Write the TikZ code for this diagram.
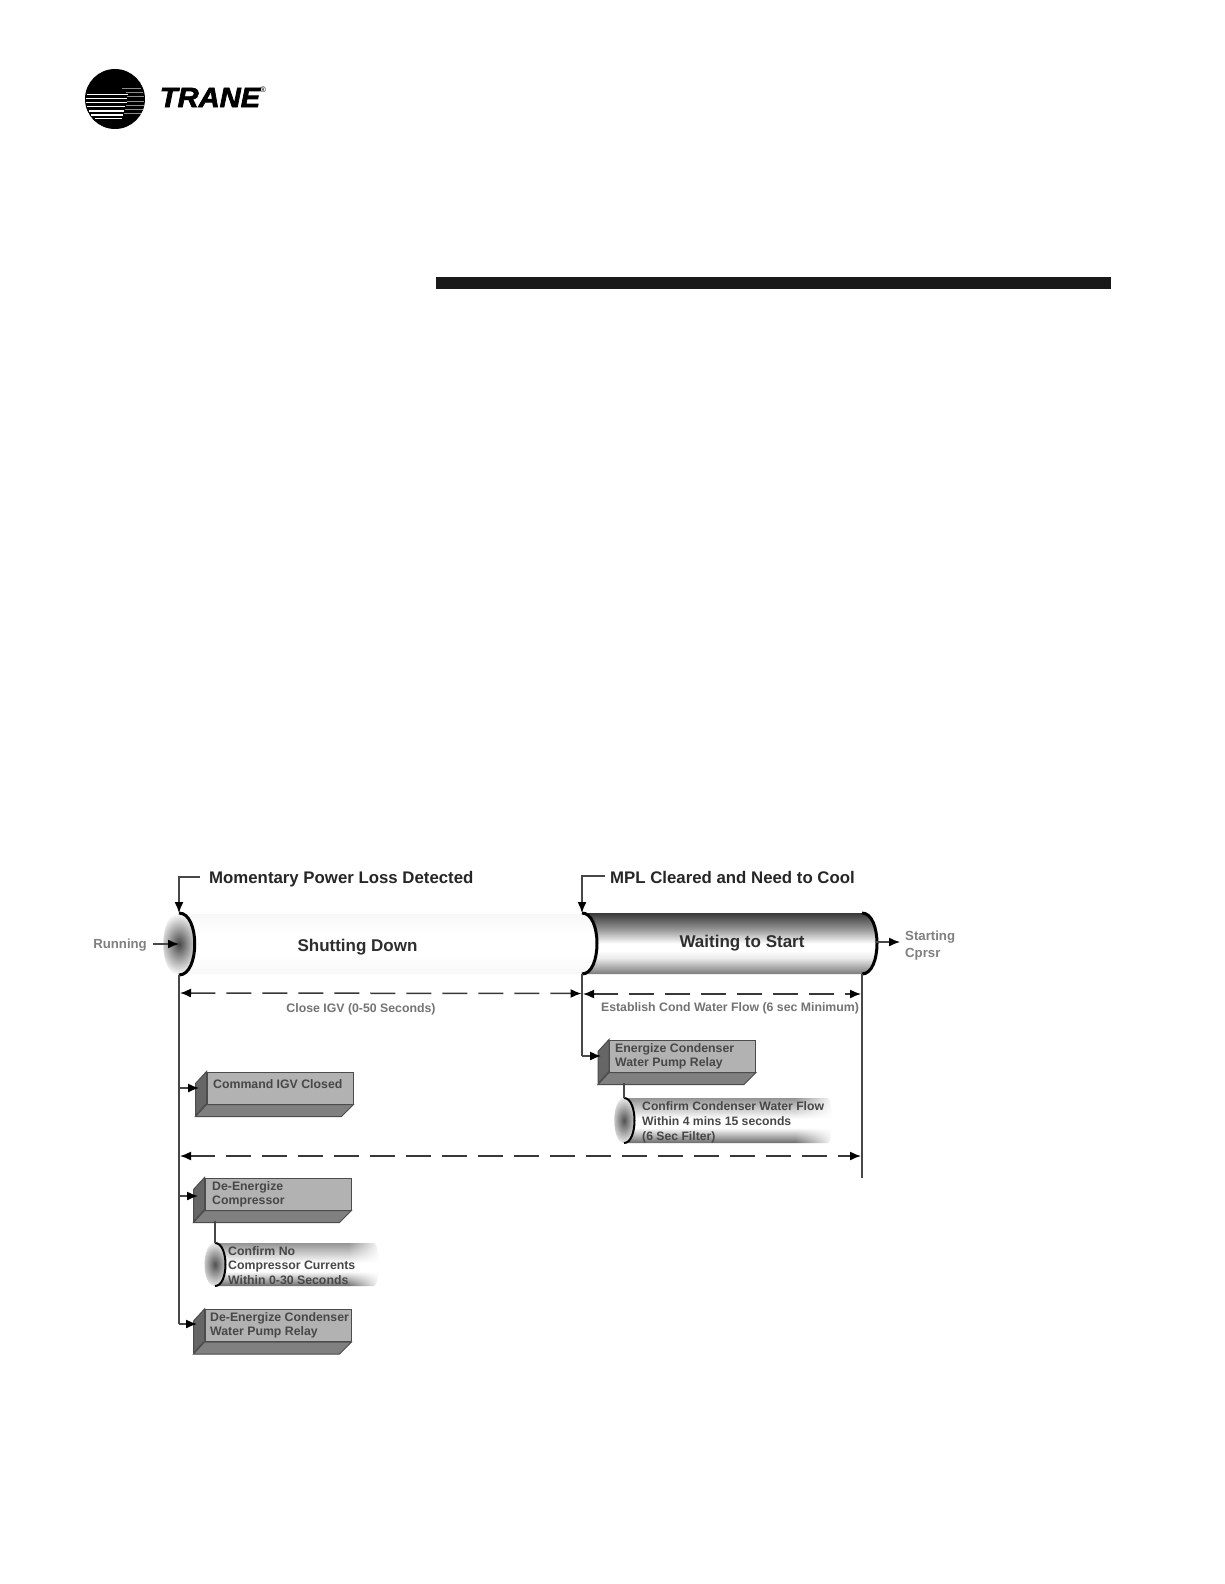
\documentclass[tikz,border=0pt]{standalone}
\usepackage{fontspec}
\setmainfont{Liberation Sans}
\usetikzlibrary{arrows.meta,fadings}
\newfontfamily\tranefont[BoldItalicFeatures={FakeBold=2.5}]{Liberation Sans}
\pgfdeclareverticalshading{bigtube}{100bp}{color(0bp)=(black!52);color(25bp)=(black!52);color(38bp)=(black!8);color(44bp)=(white);color(50bp)=(white);color(62bp)=(black!42);color(75bp)=(black!78);color(100bp)=(black!78)}
\pgfdeclareverticalshading{smalltube}{100bp}{color(0bp)=(black!58);color(25bp)=(black!58);color(42bp)=(white);color(52bp)=(white);color(75bp)=(black!42);color(100bp)=(black!42)}
\pgfdeclareverticalshading{faintube}{100bp}{color(0bp)=(black!3);color(25bp)=(black!3);color(40bp)=(white);color(58bp)=(white);color(75bp)=(black!3);color(100bp)=(black!3)}
\tikzset{
  x=1pt,y=-1pt,
  headtext/.style={font=\fontsize{16.8}{19}\selectfont\bfseries,text=black!85,anchor=west,inner sep=0pt},
  statetext/.style={font=\fontsize{17}{19}\selectfont\bfseries,text=black!82,inner sep=0pt},
  sidetext/.style={font=\fontsize{13.2}{17}\selectfont\bfseries,text=black!50,inner sep=0pt},
  spantext/.style={font=\fontsize{12.3}{14}\selectfont\bfseries,text=black!55,inner sep=0pt},
  boxtext/.style={font=\fontsize{12.3}{14.3}\selectfont\bfseries,text=black!72,anchor=north west,inner sep=0pt,align=left},
  tubetext/.style={font=\fontsize{12.2}{15}\selectfont\bfseries,text=black!72,anchor=north west,inner sep=0pt,align=left},
  frontface/.style={draw=black!70,line width=1pt,fill=black!30,minimum width=146pt,minimum height=32pt,inner sep=0pt},
  sideface/.style={draw=black!70,line width=1pt,fill=black!60},
  bottomface/.style={draw=black!70,line width=1pt,fill=black!50},
  conn/.style={draw=black!72,line width=1.4pt},
  arrowconn/.style={conn,-{Latex[length=11pt,width=9pt,black]}},
  spanconn/.style={draw=black!78,line width=1.5pt,dash pattern=on 25pt off 11pt,{Latex[length=11pt,width=9pt,black]}-{Latex[length=11pt,width=9pt,black]}},
  rim/.style={draw=black,line width=3pt},
  smallrim/.style={draw=black,line width=2pt},
}
% #1 name, #2 centre x, #3 centre y
\newcommand{\solidbox}[3]{%
  \node[frontface] (#1) at (#2,#3) {};
  \fill[sideface] (#1.north west) -- ++(-11,12) -- ++(0,32) -- ++(11,-12) -- cycle;
  \fill[bottomface] (#1.south west) -- ++(-11,12) -- ++(146,0) -- (#1.south east) -- cycle;
}
\begin{document}
\begin{tikzpicture}
\useasboundingbox (0,0) rectangle (1224,1584);
\fill[white] (0,0) rectangle (1224,1584);

% logo
\fill[black] (115,99) circle[radius=30pt];
\foreach \yy/\xa/\xb in {94.3/87/128,98.3/86/127,102.7/86/126.5,106.7/87/125,111/89/124,115/91/123,118.7/95/122}
  \draw[white,line width=1.4pt] (\xa,\yy) -- (\xb,\yy);
\foreach \yy/\xa/\xb in {88.3/122/141,92.7/126/143,96.7/127/144,101/127/144,105/126/144,109.3/125/143,113.3/124/141}
  \draw[black!45,line width=.9pt] (\xa,\yy) -- (\xb,\yy);
\node[inner sep=0pt,anchor=center,xscale=1.04] (trane) at (210,97.5) {\tranefont\fontsize{28}{30}\selectfont\bfseries\itshape TRANE};
\node[inner sep=0pt] (reg) at (263,90) {\fontsize{8}{9}\selectfont ®};

% heading rule
\fill[black!90] (436,277) rectangle (1111,289);

% shutting-down tube
\shade[shading=faintube] (179,914) -- (582,914) .. controls (602,914) and (602,974) .. (582,974) -- (179,974) -- cycle;
% waiting tube
\shade[shading=bigtube] (582,913) -- (862,913) .. controls (882,913) and (882,974) .. (862,974) -- (582,974) .. controls (602,974) and (602,913) .. (582,913) -- cycle;
\coordinate (wl) at (582,913);
\coordinate (wlb) at (582,974);
\coordinate (wr) at (862,913);
\coordinate (wrb) at (862,974);
\draw[rim] (wl) .. controls (602,913) and (602,974) .. (wlb);
\draw[rim] (wr) .. controls (882,913) and (882,974) .. (wrb);
% running lens
\shade[inner color=black!72,outer color=white] (179,913) .. controls (158,913) and (158,975) .. (179,975) .. controls (200,975) and (200,913) .. (179,913) -- cycle;
\coordinate (ll) at (179,913);
\coordinate (llb) at (179,975);
\draw[rim] (ll) .. controls (200,913) and (200,975) .. (llb);

% state labels
\node[statetext] (shut) at (357.5,947) {Shutting Down};
\node[statetext] (wait) at (742,943.5) {Waiting to Start};
\node[headtext] (mpld) at (209,879) {Momentary Power Loss Detected};
\node[headtext] (mplc) at (610,877.5) {MPL Cleared and Need to Cool};
\node[sidetext,anchor=east] (run) at (147,945.5) {Running};
\node[sidetext,anchor=west,align=left] (start) at (905,945.5) {Starting\\Cprsr};
\node[spantext] (igvspan) at (361,1009) {Close IGV (0-50 Seconds)};
\node[spantext] (condspan) at (730,1008) {Establish Cond Water Flow (6 sec Minimum)};

% bus lines and end points
\coordinate (ltop) at (179,877);
\coordinate (lcen) at (179,944);
\coordinate (lbus) at (179,975);
\coordinate (lend) at (179,1324);
\coordinate (ligv) at (179,1088);
\coordinate (lcomp) at (179,1196);
\coordinate (mtop) at (582,876);
\coordinate (mbus) at (582,974);
\coordinate (mend) at (582,1056);
\coordinate (rbus) at (862,974);
\coordinate (rend) at (862,1178);
\coordinate (s1a) at (180,993);
\coordinate (s1b) at (581.5,993.5);
\coordinate (s2a) at (583,994);
\coordinate (s2b) at (861,994);
\coordinate (s3a) at (180,1156);
\coordinate (s3b) at (861,1156);
\coordinate (rout) at (900,942);
\coordinate (rin) at (876,942);

% process boxes
\solidbox{igv}{280}{1088}
\solidbox{pump}{682.5}{1056}
\solidbox{comp}{278}{1194}
\solidbox{drelay}{278}{1325.5}
\coordinate (igvin) at (199,1088);
\coordinate (pumpin) at (601,1056);
\coordinate (compin) at (198,1196);
\coordinate (drelayin) at (197,1324);
\coordinate (pumpbot) at (624,1083);
\coordinate (compbot) at (215,1221);

\node[boxtext] (igvt) at (213,1079.5) {Command IGV Closed};
\node[boxtext] (pumpt) at (615,1043.5) {Energize Condenser\\Water Pump Relay};
\node[boxtext] (compt) at (212,1181.5) {De-Energize\\Compressor};
\node[boxtext] (drelayt) at (210,1312) {De-Energize Condenser\\Water Pump Relay};

% confirm tube, condenser
\shade[shading=smalltube] (624,1098) -- (828,1098) .. controls (833,1098) and (833,1143) .. (828,1143) -- (624,1143) .. controls (638,1143) and (638,1098) .. (624,1098) -- cycle;
\fill[white,path fading=west] (795,1096) rectangle (834,1145);
\shade[inner color=black!68,outer color=black!8] (624,1098) .. controls (611,1098) and (611,1143) .. (624,1143) .. controls (637,1143) and (637,1098) .. (624,1098) -- cycle;
\coordinate (c1t) at (624,1098);
\coordinate (c1b) at (624,1143);
\draw[smallrim] (c1t) .. controls (638,1098) and (638,1143) .. (c1b);
\node[tubetext] (c1text) at (642,1101) {Confirm Condenser Water Flow\\Within 4 mins 15 seconds\\(6 Sec Filter)};

% confirm tube, compressor
\shade[shading=smalltube] (215,1243) -- (374,1243) .. controls (380,1243) and (380,1286) .. (374,1286) -- (215,1286) .. controls (229,1286) and (229,1243) .. (215,1243) -- cycle;
\fill[white,path fading=west] (348,1241) rectangle (381,1288);
\shade[inner color=black!68,outer color=black!8] (215,1243) .. controls (201,1243) and (201,1286) .. (215,1286) .. controls (229,1286) and (229,1243) .. (215,1243) -- cycle;
\coordinate (c2t) at (215,1243);
\coordinate (c2b) at (215,1286);
\draw[smallrim] (c2t) .. controls (229,1243) and (229,1286) .. (c2b);
\node[boxtext] (c2text) at (228,1246.5) {Confirm No\\Compressor Currents\\Within 0-30 Seconds};

% connectors
\draw[arrowconn] (mpld.west) ++(-9,-2) -- (ltop) -- (ll);
\draw[arrowconn] (mplc.west) ++(-5,-1.5) -- (mtop) -- (wl);
\draw[arrowconn] (run.east) ++(6,-1.5) -- (lcen);
\draw[arrowconn] (rin) -- (rout);
\draw[conn] (lbus) -- (lend);
\draw[conn] (mbus) -- (mend);
\draw[conn] (rbus) -- (rend);
\draw[arrowconn] (ligv) -- (igvin);
\draw[arrowconn] (mend) -- (pumpin);
\draw[arrowconn] (lcomp) -- (compin);
\draw[arrowconn] (lend) -- (drelayin);
\draw[conn] (pumpbot) -- (c1t);
\draw[conn] (compbot) -- (c2t);
\draw[spanconn] (s1a) -- (s1b);
\draw[spanconn] (s2a) -- (s2b);
\draw[spanconn] (s3a) -- (s3b);
\end{tikzpicture}
\end{document}
